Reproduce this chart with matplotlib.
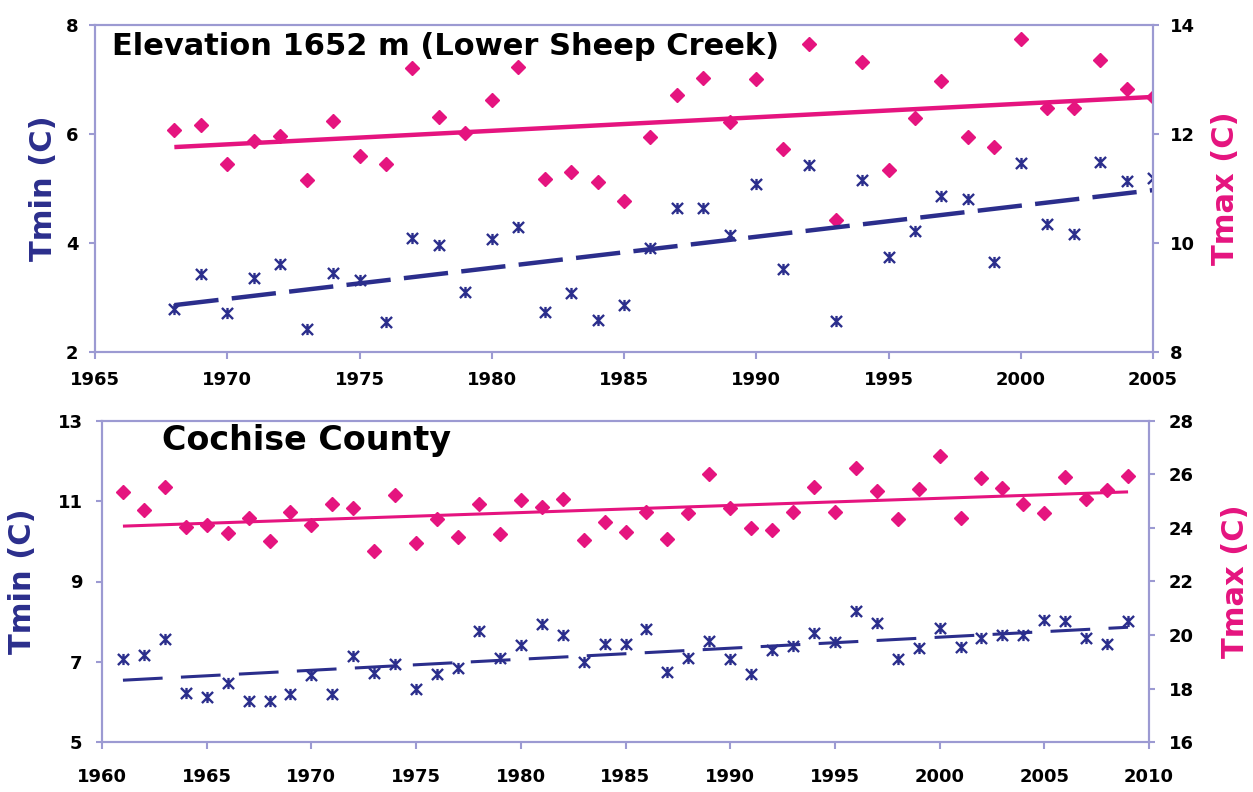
import numpy as np
import matplotlib.pyplot as plt
from matplotlib.path import Path

# ---- data: Lower Sheep Creek (top) ----
yrs_top = np.arange(1968, 2006)
tmin_top = [2.79, 3.43, 2.71, 3.36, 3.61, 2.42, 3.45, 3.32, 2.55, 4.09,
            3.96, 3.10, 4.07, 4.29, 2.73, 3.08, 2.59, 2.86, 3.90, 4.64,
            4.64, 4.15, 5.08, 3.52, 5.43, 2.57, 5.16, 3.74, 4.22, 4.86,
            4.80, 3.66, 5.47, 4.35, 4.16, 5.49, 5.14, 5.19]
tmax_top = [12.07, 12.17, 11.45, 11.87, 11.96, 11.15, 12.24, 11.60, 11.45, 13.21,
            12.31, 12.02, 12.62, 13.23, 11.17, 11.30, 11.12, 10.77, 11.94, 12.72,
            13.03, 12.22, 13.01, 11.72, 13.65, 10.42, 13.32, 11.34, 12.29, 12.97,
            11.94, 11.76, 13.74, 12.48, 12.48, 13.36, 12.83, 12.68]
trend_yrs_top = [1968, 2005]
tmin_trend_top = [2.86, 4.97]
tmax_trend_top = [11.76, 12.68]

# ---- data: Cochise County (bottom) ----
yrs_bot = np.arange(1961, 2010)
tmin_bot = [7.06, 7.16, 7.56, 6.22, 6.12, 6.47, 6.02, 6.02, 6.19, 6.67,
            6.19, 7.14, 6.72, 6.94, 6.32, 6.69, 6.84, 7.76, 7.09, 7.41,
            7.94, 7.66, 6.99, 7.44, 7.44, 7.81, 6.74, 7.09, 7.51, 7.06,
            6.69, 7.29, 7.39, 7.71, 7.49, 8.26, 7.96, 7.06, 7.34, 7.84,
            7.36, 7.59, 7.66, 7.66, 8.04, 8.01, 7.59, 7.44, 8.01]
tmax_bot = [25.35, 24.67, 25.53, 24.04, 24.11, 23.81, 24.37, 23.51, 24.60, 24.11,
            24.90, 24.75, 23.14, 25.23, 23.44, 24.34, 23.66, 24.90, 23.77, 25.05,
            24.79, 25.08, 23.55, 24.22, 23.85, 24.60, 23.59, 24.56, 26.02, 24.75,
            24.00, 23.93, 24.60, 25.53, 24.60, 26.24, 25.38, 24.34, 25.46, 26.69,
            24.37, 25.87, 25.50, 24.90, 24.56, 25.91, 25.08, 25.42, 25.94]
trend_yrs_bot = [1961, 2009]
tmin_trend_bot = [6.54, 7.86]
tmax_trend_bot = [24.07, 25.35]

BLUE = '#2b2e8c'
PINK = '#e5147f'
FRAME = '#9c9ad2'

plt.rcParams['font.family'] = 'DejaVu Sans'
plt.rcParams['font.weight'] = 'bold'

# excel-like star marker: x with a vertical bar
star = Path([(-1, -1), (1, 1), (-1, 1), (1, -1), (0, -1), (0, 1)],
            [Path.MOVETO, Path.LINETO, Path.MOVETO, Path.LINETO, Path.MOVETO, Path.LINETO])

fig = plt.figure(figsize=(12.53, 7.92), dpi=100)


def panel(rect, yrs, tmin, tmax, tyrs, tmin_tr, tmax_tr, xlim, xticks, lim1, ticks1,
          lim2, ticks2, title, title_xy, title_size, lw, dash, xl_left, xl_right,
          xpad, ypad):
    ax = fig.add_axes(rect)
    ax2 = ax.twinx()
    ax.set_zorder(ax2.get_zorder() + 1)
    ax.patch.set_visible(False)

    ax2.plot(tyrs, tmax_tr, color=PINK, lw=lw, solid_capstyle='butt')
    ax2.plot(yrs, tmax, 'D', color=PINK, ms=7, mec=PINK)
    ax.plot(tyrs, tmin_tr, color=BLUE, lw=lw, dashes=dash)
    ax.plot(yrs, tmin, ls='none', marker=star, ms=8, mec=BLUE, mew=1.7, mfc='none')

    ax.set_xlim(*xlim)
    ax.set_xticks(xticks)
    ax.set_ylim(*lim1)
    ax.set_yticks(ticks1)
    ax2.set_ylim(*lim2)
    ax2.set_yticks(ticks2)

    for a in (ax, ax2):
        for s in a.spines.values():
            s.set_color(FRAME)
            s.set_linewidth(1.5)
    ax.tick_params(axis='x', colors=FRAME, labelcolor='black', labelsize=13,
                   length=5, width=1.5, pad=xpad)
    ax.tick_params(axis='y', colors=FRAME, labelcolor='black', labelsize=13,
                   length=4, width=1.5, pad=ypad)
    ax2.tick_params(axis='y', colors=FRAME, labelcolor='black', labelsize=13,
                    length=4, width=1.5, pad=ypad)

    ax.set_ylabel('Tmin (C)', color=BLUE, fontsize=22, fontweight='bold')
    ax.yaxis.set_label_coords(xl_left, 0.5)
    ax2.set_ylabel('Tmax (C)', color=PINK, fontsize=22, fontweight='bold')
    ax2.yaxis.set_label_coords(xl_right, 0.5)

    ax.text(title_xy[0], title_xy[1], title, transform=ax.transAxes,
            fontsize=title_size, fontweight='bold',
            ha='left', va='center', color='black')
    return ax


panel([95 / 1253, 1 - 352 / 792, 1058 / 1253, 327 / 792],
      yrs_top, tmin_top, tmax_top, trend_yrs_top, tmin_trend_top, tmax_trend_top,
      (1965, 2005), range(1965, 2006, 5), (2, 8), [2, 4, 6, 8],
      (8, 14), [8, 10, 12, 14],
      'Elevation 1652 m (Lower Sheep Creek)', (0.016, 0.935), 22, 3.2, (10, 3),
      -0.035, 1.055, 9, 8)

panel([102 / 1253, 1 - 742 / 792, 1047 / 1253, 321 / 792],
      yrs_bot, tmin_bot, tmax_bot, trend_yrs_bot, tmin_trend_bot, tmax_trend_bot,
      (1960, 2010), range(1960, 2011, 5), (5, 13), [5, 7, 9, 11, 13],
      (16, 28), list(range(16, 29, 2)),
      'Cochise County', (0.057, 0.938), 24, 2.2, (13, 6),
      -0.062, 1.069, 14, 10)

fig.savefig('out.png', dpi=100)
